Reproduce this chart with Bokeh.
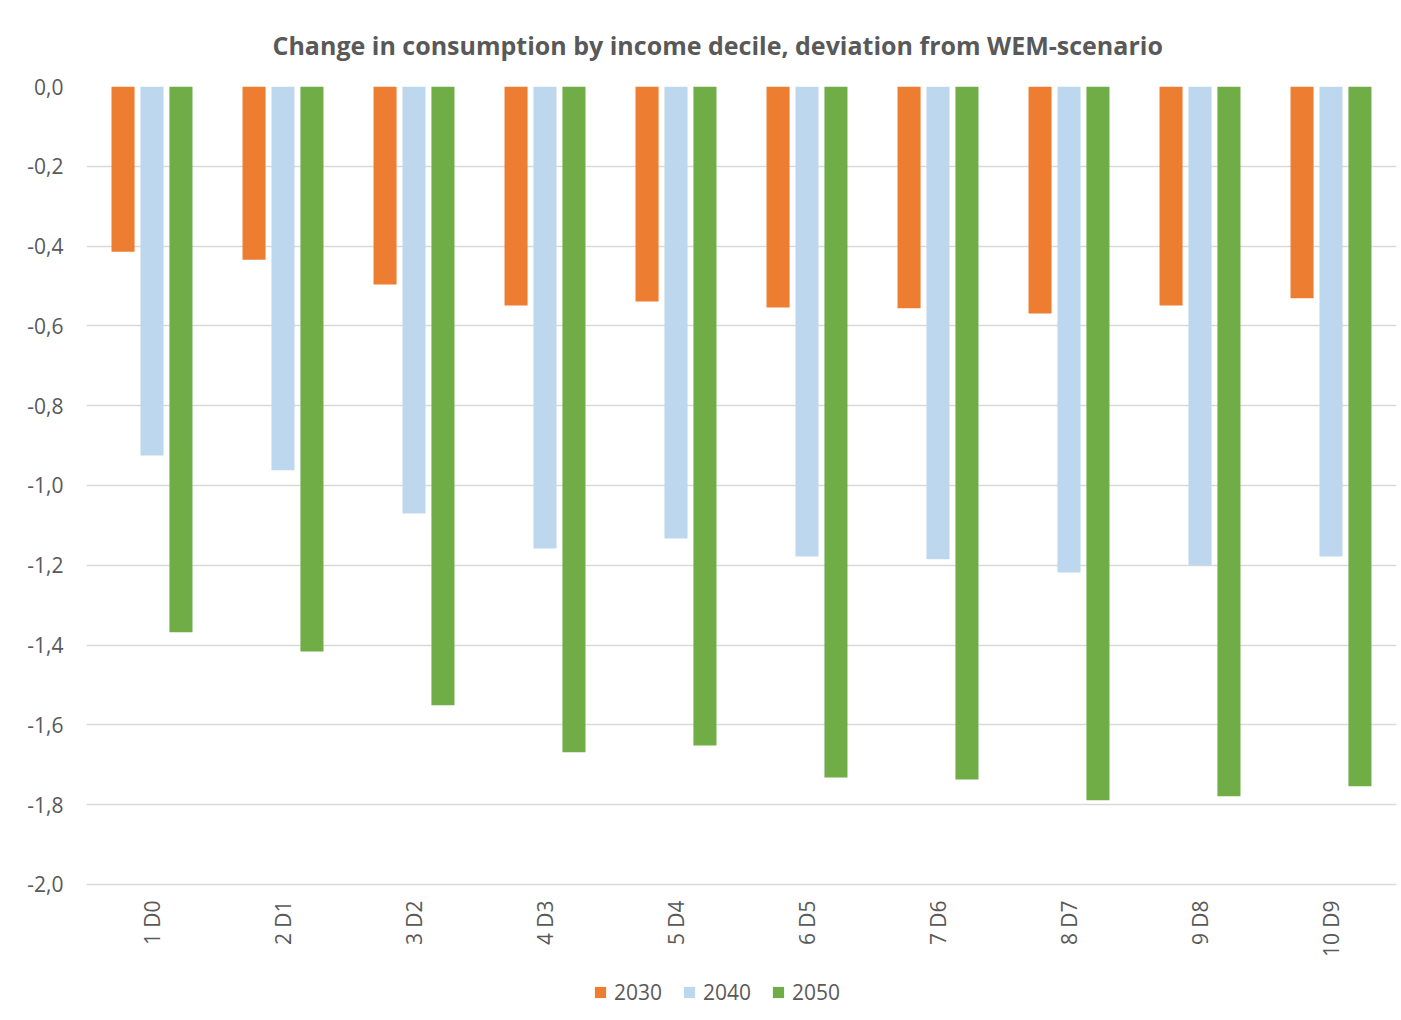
import math
from bokeh.plotting import figure
from bokeh.models import (FactorRange, Range1d, FixedTicker, CustomJSTickFormatter,
                          Legend, LegendItem, ColumnDataSource)
from bokeh.transform import dodge
from bokeh.core.properties import value
from bokeh.embed import file_html
from bokeh.resources import INLINE

categories = ["1 D0", "2 D1", "3 D2", "4 D3", "5 D4", "6 D5", "7 D6", "8 D7", "9 D8", "10 D9"]
years = ["2030", "2040", "2050"]
v2030 = [-0.414, -0.434, -0.496, -0.549, -0.539, -0.554, -0.556, -0.569, -0.549, -0.531]
v2040 = [-0.925, -0.962, -1.070, -1.158, -1.133, -1.178, -1.185, -1.218, -1.200, -1.178]
v2050 = [-1.368, -1.416, -1.551, -1.669, -1.652, -1.732, -1.737, -1.789, -1.779, -1.754]
y_ticks = [0.0, -0.2, -0.4, -0.6, -0.8, -1.0, -1.2, -1.4, -1.6, -1.8, -2.0]
title_text = "Change in consumption by income decile, deviation from WEM-scenario"

colors = ["#ED7D31", "#BDD7EE", "#70AD47"]
offsets = [-0.221, 0.0, 0.221]
TEXT = "#595959"
FONT = "Open Sans"

# frame extends below the value axis so the category labels and legend can sit inside it
Y_LOW = -2.316
LABEL_Y = -2.040

src = ColumnDataSource(data=dict(cat=categories, y2030=v2030, y2040=v2040, y2050=v2050,
                                 label_y=[LABEL_Y] * len(categories)))

p = figure(x_range=FactorRange(*categories), y_range=Range1d(Y_LOW, 0.0),
           frame_width=1310, frame_height=924,
           min_border_left=86, min_border_right=4, min_border_top=86, min_border_bottom=0,
           output_backend="svg", toolbar_location=None)

renderers = []
for yr, col, off in zip(years, colors, offsets):
    r = p.vbar(x=dodge("cat", off, range=p.x_range), top=0, bottom="y" + yr, width=0.176,
               source=src, fill_color=col, line_color=None)
    renderers.append(r)

# category labels, rotated, reading bottom to top
p.text(x="cat", y="label_y", text="cat", source=src, angle=math.pi / 2,
       text_align="right", text_baseline="middle", text_font=value(FONT),
       text_font_size="21px", text_color=TEXT)

p.outline_line_color = None
p.background_fill_color = "white"
p.border_fill_color = "white"

p.title.text = title_text
p.title.align = "left"
p.title.offset = 186
p.title.text_font = FONT
p.title.text_font_size = "25px"
p.title.text_font_style = "bold"
p.title.text_color = TEXT
p.title.standoff = 50

p.xgrid.grid_line_color = None
p.ygrid.grid_line_color = "#D9D9D9"
p.ygrid.grid_line_width = 1.5

p.yaxis.ticker = FixedTicker(ticks=y_ticks)
p.yaxis.formatter = CustomJSTickFormatter(code="return tick.toFixed(1).replace('.', ',');")
p.yaxis.axis_line_color = None
p.yaxis.major_tick_line_color = None
p.yaxis.minor_tick_line_color = None
p.yaxis.major_label_standoff = 17
p.yaxis.major_label_text_font = FONT
p.yaxis.major_label_text_font_size = "21px"
p.yaxis.major_label_text_color = TEXT

p.xaxis.visible = False

legend = Legend(items=[LegendItem(label=yr, renderers=[r]) for yr, r in zip(years, renderers)],
                orientation="horizontal", location=(507, 4),
                label_text_font=FONT, label_text_font_size="21px", label_text_color=TEXT,
                glyph_width=14, glyph_height=14, label_standoff=7, spacing=20,
                padding=0, margin=0, border_line_color=None, background_fill_alpha=0)
p.add_layout(legend, "center")

open("out.html", "w").write(file_html(p, INLINE))
